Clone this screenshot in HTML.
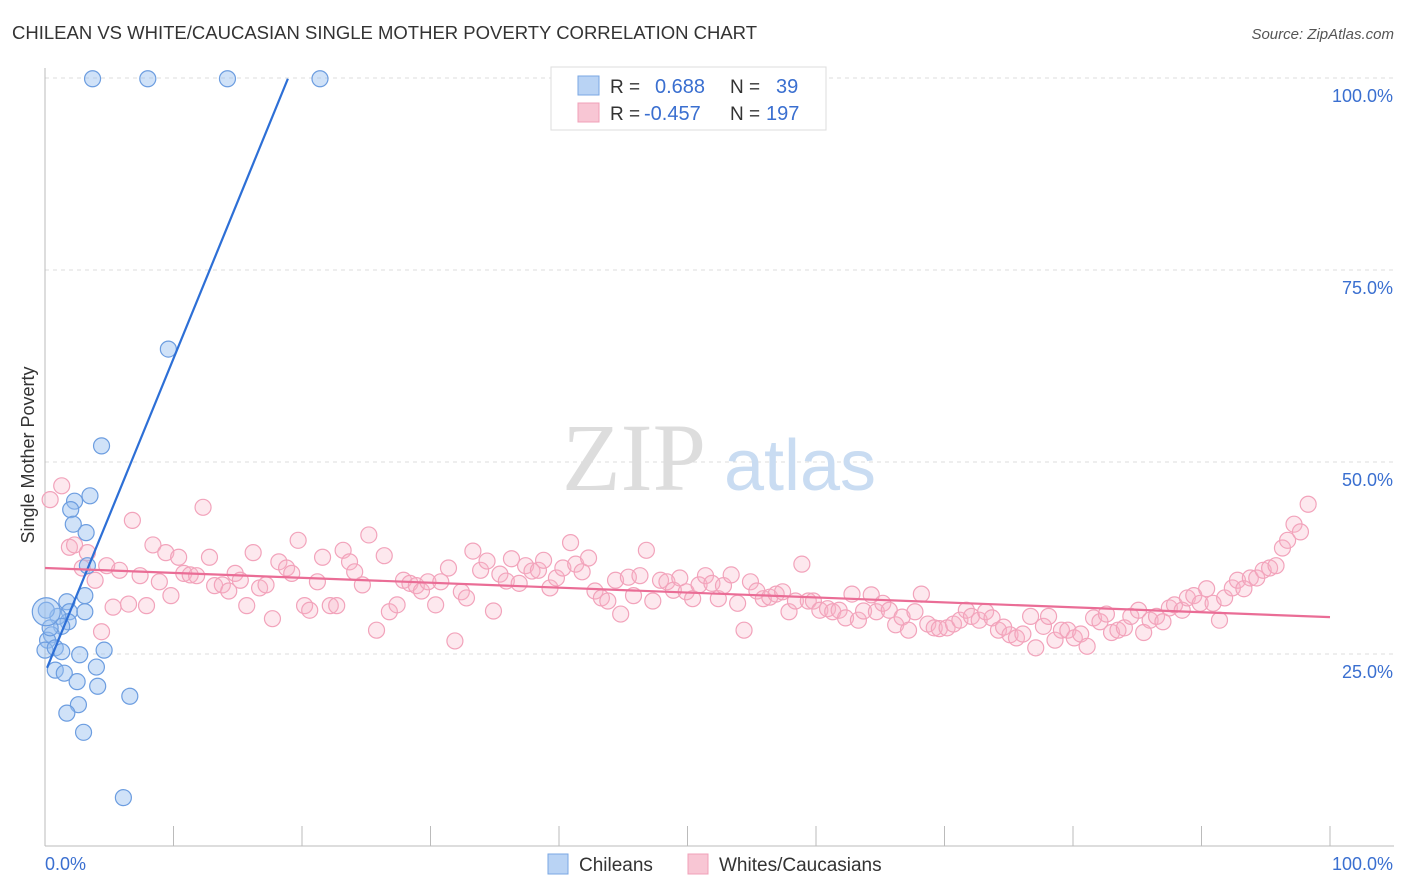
<!DOCTYPE html>
<html><head><meta charset="utf-8"><style>
body{margin:0;background:#fff;font-family:"Liberation Sans",sans-serif;}
svg{display:block}
</style></head><body>
<svg id="chart" width="1406" height="892" xmlns="http://www.w3.org/2000/svg">
<text x="12" y="39" font-size="18" fill="#333" textLength="745" lengthAdjust="spacingAndGlyphs">CHILEAN VS WHITE/CAUCASIAN SINGLE MOTHER POVERTY CORRELATION CHART</text>
<text x="1394" y="39" font-size="15" fill="#555" font-style="italic" text-anchor="end">Source: ZipAtlas.com</text>
<g id="grid"></g>
<g id="axes"></g>
<text x="634" y="490" font-size="96" fill="#ddd" font-family="Liberation Serif,serif" text-anchor="middle">ZIP</text>
<text x="800" y="490" font-size="72" fill="#c9dcf2" text-anchor="middle">atlas</text>
<g id="marks"></g>
<text transform="translate(34,455) rotate(-90)" font-size="18" fill="#333" text-anchor="middle">Single Mother Poverty</text>
<g>
<rect x="551" y="67" width="275" height="63" fill="#fff" stroke="#ddd"/>
<rect x="578" y="76" width="21" height="19" fill="#b9d3f4" stroke="#7aa7e3"/>
<rect x="578" y="103" width="21" height="19" fill="#f8c6d4" stroke="#f0a0b8"/>
<text x="610" y="93" font-size="19" fill="#333">R =</text>
<text x="655" y="93" font-size="20" fill="#3a6fd0">0.688</text>
<text x="730" y="93" font-size="19" fill="#333">N =</text>
<text x="776" y="93" font-size="20" fill="#3a6fd0">39</text>
<text x="610" y="120" font-size="19" fill="#333">R =</text>
<text x="644" y="120" font-size="20" fill="#3a6fd0">-0.457</text>
<text x="730" y="120" font-size="19" fill="#333">N =</text>
<text x="766" y="120" font-size="20" fill="#3a6fd0">197</text>
</g>
<g>
<rect x="548" y="854" width="20" height="20" fill="#b9d3f4" stroke="#7aa7e3"/>
<text x="579" y="871" font-size="19" fill="#333">Chileans</text>
<rect x="688" y="854" width="20" height="20" fill="#f8c6d4" stroke="#f0a0b8"/>
<text x="719" y="871" font-size="19" fill="#333">Whites/Caucasians</text>
</g>
</svg>
<script>
const yTicks=[25,50,75,100];
const yTickLabels=["25.0%","50.0%","75.0%","100.0%"];
const blueX=[3.7,8.0,14.2,21.4,9.6,4.4,3.5,2.3,2.0,2.2,3.2,3.3,3.1,1.7,1.9,3.1,1.8,1.0,1.3,0.5,0.2,0.1,0.0,0.8,1.3,2.7,4.6,4.0,0.8,1.5,2.5,4.1,6.6,2.6,1.7,3.0,6.1,0.4,0.1];
const blueY=[99.9,99.9,99.9,99.9,64.7,52.1,45.6,44.9,43.8,41.9,40.8,36.5,32.6,31.8,30.5,30.5,29.2,29.9,28.6,27.5,26.8,30.7,25.5,25.8,25.3,24.9,25.5,23.3,22.9,22.5,21.4,20.8,19.5,18.4,17.3,14.8,6.3,28.4,30.5];
const pinkX=[0.4,1.3,1.9,2.3,3.3,3.9,2.9,4.4,4.8,5.3,5.8,6.5,6.8,7.4,7.9,8.4,8.9,9.4,9.8,10.4,10.8,11.3,11.8,12.3,12.8,13.2,13.8,14.3,14.8,15.2,15.7,16.2,16.7,17.2,17.7,18.2,18.8,19.2,19.7,20.2,20.6,21.2,21.6,22.2,22.7,23.2,23.7,24.1,24.7,25.2,25.8,26.4,26.8,27.4,27.9,28.4,28.9,29.3,29.8,30.4,30.8,31.4,31.9,32.4,32.8,33.3,33.9,34.4,34.9,35.4,35.9,36.3,36.9,37.4,37.9,38.4,38.8,39.3,39.8,40.3,40.9,41.3,41.8,42.3,42.8,43.3,43.8,44.4,44.8,45.4,45.8,46.3,46.8,47.3,47.9,48.4,48.9,49.4,49.9,50.4,50.9,51.4,51.9,52.4,52.8,53.4,53.9,54.4,54.9,55.4,55.9,56.4,56.9,57.4,57.9,58.4,58.9,59.4,59.8,60.3,60.9,61.3,61.8,62.3,62.8,63.3,63.7,64.3,64.7,65.2,65.7,66.2,66.7,67.2,67.7,68.2,68.7,69.2,69.6,70.2,70.7,71.2,71.7,72.1,72.7,73.2,73.7,74.2,74.6,75.1,75.6,76.1,76.7,77.1,77.7,78.1,78.6,79.1,79.6,80.1,80.6,81.1,81.6,82.1,82.6,83.0,83.5,84.0,84.5,85.1,85.5,86.0,86.5,87.0,87.5,87.9,88.5,88.9,89.4,89.9,90.4,90.9,91.4,91.8,92.4,92.8,93.3,93.8,94.3,94.8,95.3,95.8,96.3,96.7,97.2,97.7,98.3];
const pinkY=[45.1,46.9,38.9,39.2,38.2,34.6,36.2,27.9,36.5,31.1,35.9,31.5,42.4,35.2,31.3,39.2,34.4,38.2,32.6,37.6,35.5,35.3,35.2,44.1,37.6,33.9,34.0,33.2,35.5,34.6,31.3,38.2,33.6,34.0,29.6,37.0,36.2,35.5,39.8,31.3,30.7,34.4,37.6,31.3,31.3,38.5,37.0,35.7,34.0,40.5,28.1,37.8,30.5,31.4,34.6,34.2,33.9,33.2,34.4,31.4,34.4,36.2,26.7,33.1,32.3,38.4,35.9,37.1,30.6,35.4,34.5,37.4,34.2,36.5,35.8,35.9,37.2,33.6,34.9,36.2,39.5,36.7,35.7,37.5,33.2,32.3,31.9,34.6,30.2,35.0,32.6,35.2,38.5,31.9,34.6,34.4,33.3,34.9,33.1,32.2,34.0,35.2,34.2,32.2,33.9,35.3,31.6,28.1,34.4,33.2,32.2,32.4,32.8,33.1,30.5,31.9,36.7,31.9,31.9,30.7,30.9,30.5,30.7,29.7,32.8,29.4,30.6,32.7,30.5,31.6,30.7,28.8,29.8,28.1,30.5,32.8,28.9,28.4,28.3,28.4,28.9,29.4,30.7,29.9,29.4,30.5,29.7,28.1,28.5,27.5,27.1,27.6,29.9,25.8,28.6,29.9,26.8,28.1,28.1,27.1,27.6,26.0,29.7,29.2,30.2,27.8,28.1,28.4,29.9,30.7,27.8,29.4,29.9,29.2,31.0,31.4,30.7,32.3,32.6,31.6,33.5,31.6,29.4,32.3,33.6,34.6,33.5,34.9,34.9,35.9,36.2,36.5,38.8,39.8,41.9,40.9,44.5];
const blueTrend=[[0.16,23.2],[18.9,99.9]];
const pinkTrend=[[0,36.2],[100,29.8]];

const NS="http://www.w3.org/2000/svg";
const X=v=>45+v*12.85, Y=v=>846-v*7.68;
function mk(tag,attrs,parent){const e=document.createElementNS(NS,tag);for(const k in attrs)e.setAttribute(k,attrs[k]);parent.appendChild(e);return e;}
const grid=document.getElementById('grid'),axes=document.getElementById('axes'),marks=document.getElementById('marks');
yTicks.forEach((t,i)=>{
  const l=mk('line',{x1:45,x2:1394,y1:Y(t),y2:Y(t),stroke:'#ddd','stroke-dasharray':'4,4'},grid);
  
  
  const tx=mk('text',{x:1393,y:Y(t)+24,'font-size':18,fill:'#3a6fd0','text-anchor':'end'},axes);
  tx.textContent=yTickLabels[i];
  
  
});
const ax=mk('line',{x1:45,x2:45,y1:68,y2:846,stroke:'#bbb'},axes);


const bx=mk('line',{x1:45,x2:1394,y1:846,y2:846,stroke:'#bbb'},axes);


for(let i=0;i<=10;i++){const tk=mk('line',{x1:X(i*10),x2:X(i*10),y1:826,y2:846,stroke:'#bbb'},axes);
  
  }
const xl=mk('text',{x:45,y:870,'font-size':18,fill:'#3a6fd0'},axes);xl.textContent='0.0%';


const xr=mk('text',{x:1393,y:870,'font-size':18,fill:'#3a6fd0','text-anchor':'end'},axes);xr.textContent='100.0%';


pinkX.forEach((v,i)=>{const c=mk('circle',{cx:X(v),cy:Y(pinkY[i]),r:8,fill:'rgba(248,180,200,0.3)',stroke:'#f2a3bb','stroke-width':1.2},marks);
  
  });
blueX.forEach((v,i)=>{const c=mk('circle',{cx:X(v),cy:Y(blueY[i]),r:i==blueX.length-1?14:8,fill:'rgba(150,190,240,0.45)',stroke:'#6c9de0','stroke-width':1.2},marks);
  
  });
const bl=mk('line',{x1:X(blueTrend[0][0]),y1:Y(blueTrend[0][1]),x2:X(blueTrend[1][0]),y2:Y(blueTrend[1][1]),stroke:'#2d6fd6','stroke-width':2.2},marks);


const pl=mk('line',{x1:X(pinkTrend[0][0]),y1:Y(pinkTrend[0][1]),x2:X(pinkTrend[1][0]),y2:Y(pinkTrend[1][1]),stroke:'#ea6d96','stroke-width':2.2},marks);


</script>
</body></html>
